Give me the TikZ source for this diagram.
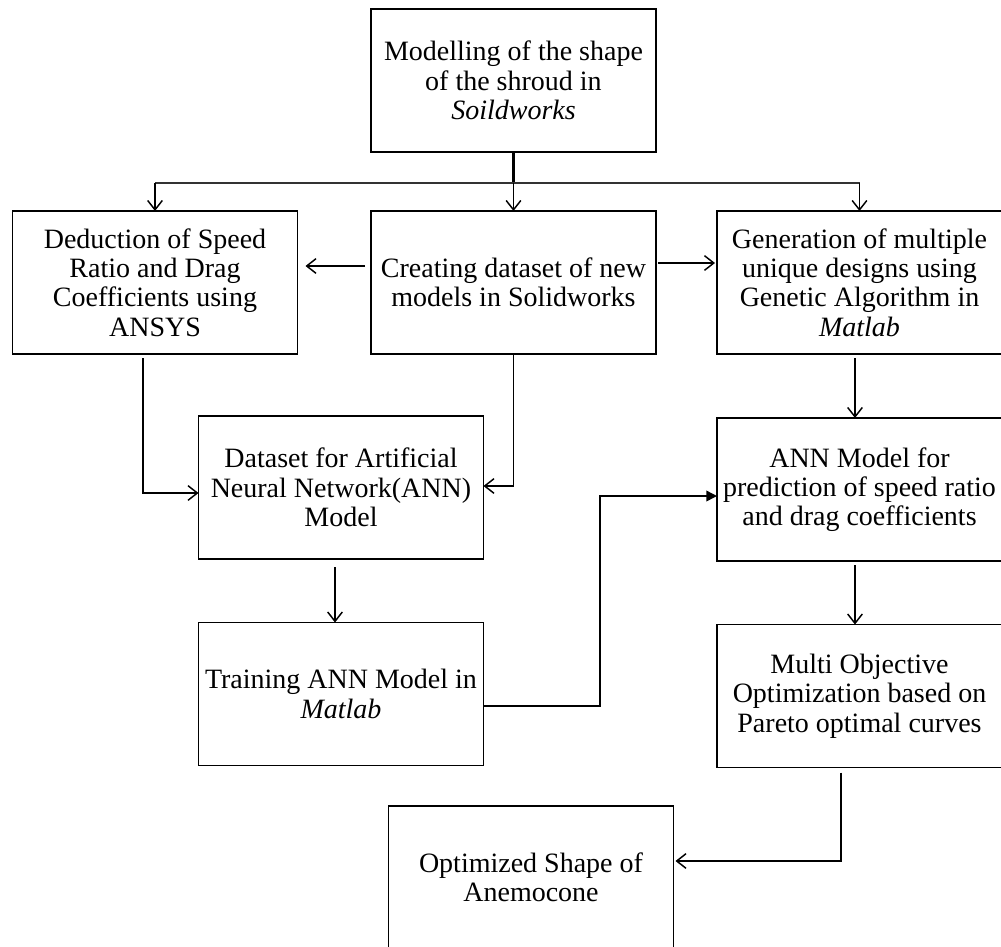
\documentclass[tikz,border=0pt]{standalone}
\usepackage{fontspec}
\setmainfont{Liberation Serif}
\usetikzlibrary{arrows.meta,calc}
\begin{document}
\begin{tikzpicture}[x=0.75pt,y=-0.75pt,
  stepbox/.style={draw, line width=1.4pt, minimum width=213.75pt, minimum height=107.25pt,
    inner sep=0pt, outer sep=0pt, align=center, font=\fontsize{21}{22}\selectfont},
  link/.style={line width=1.1pt, -{Straight Barb[length=7pt,width=11pt,line width=1.1pt]}},
  solidlink/.style={line width=1.1pt, -{Triangle[length=8pt,width=8pt]}}]
\useasboundingbox (0,0) rectangle (1001,947);

% process steps
\node[stepbox] (model) at (513.5,80.5) {Modelling of the shape\\of the shroud in\\\textit{Soildworks}};
\node[stepbox] (deduce) at (155,282.5) {Deduction of Speed\\Ratio and Drag\\Coefficients using\\ANSYS};
\node[stepbox] (create) at (513.5,282.5) {Creating dataset of new\\models in Solidworks};
\node[stepbox] (genetic) at (859.5,282.5) {Generation of multiple\\unique designs using\\Genetic Algorithm in\\\textit{Matlab}};
\node[stepbox] (dataset) at (341,487.5) {Dataset for Artificial\\Neural Network(ANN)\\Model};
\node[stepbox] (annmodel) at (859.5,489.5) {ANN Model for\\prediction of speed ratio\\and drag coefficients};
\node[stepbox] (training) at (341,694) {Training ANN Model in\\\textit{Matlab}};
\node[stepbox] (multi) at (859.5,696) {Multi Objective\\Optimization based on\\Pareto optimal curves};
\node[stepbox] (optimum) at (531,877.5) {Optimized Shape of\\Anemocone};

% branching from the first step
\coordinate (hub) at ($(model.south)+(0,31)$);
\draw[line width=2.2pt] (model.south) -- (hub);
\draw[line width=1.6pt, black!80] (hub -| deduce.north) -- (hub -| genetic.north);
\draw[link] (hub) -- (create.north);
\draw[link] (hub -| deduce.north) -- (deduce.north);
\draw[link] (hub -| genetic.north) -- (genetic.north);

% side arrows of the dataset step
\draw[link] ($(create.west)+(-6,-16.5)$) -- ($(deduce.east)+(8,-16.5)$);
\draw[link] ($(create.east)+(2,-19.5)$) -- ($(genetic.west)+(-2,-19.5)$);

% feeding the ANN dataset
\draw[link] ($(deduce.south)+(-12,4)$) |- ($(dataset.west)+(0,5.5)$);
\draw[link] (create.south) |- ($(dataset.east)+(0,-1.5)$);

% vertical flow
\draw[link] ($(genetic.south)+(-4.5,4)$) -- ($(annmodel.north)+(-4.5,0)$);
\draw[link] ($(dataset.south)+(-6,8)$) -- ($(training.north)+(-6,0)$);
\draw[link] ($(annmodel.south)+(-4.5,4)$) -- ($(multi.north)+(-4.5,0)$);

% trained network into the prediction model
\coordinate (bend) at (600,600);
\draw[solidlink] ($(training.east)+(0,12)$) -| (bend) |- ($(annmodel.west)+(0,6.5)$);

% final result
\draw[link] ($(multi.south)+(-18.5,5)$) |- ($(optimum.east)+(2,-16.5)$);
\end{tikzpicture}
\end{document}
